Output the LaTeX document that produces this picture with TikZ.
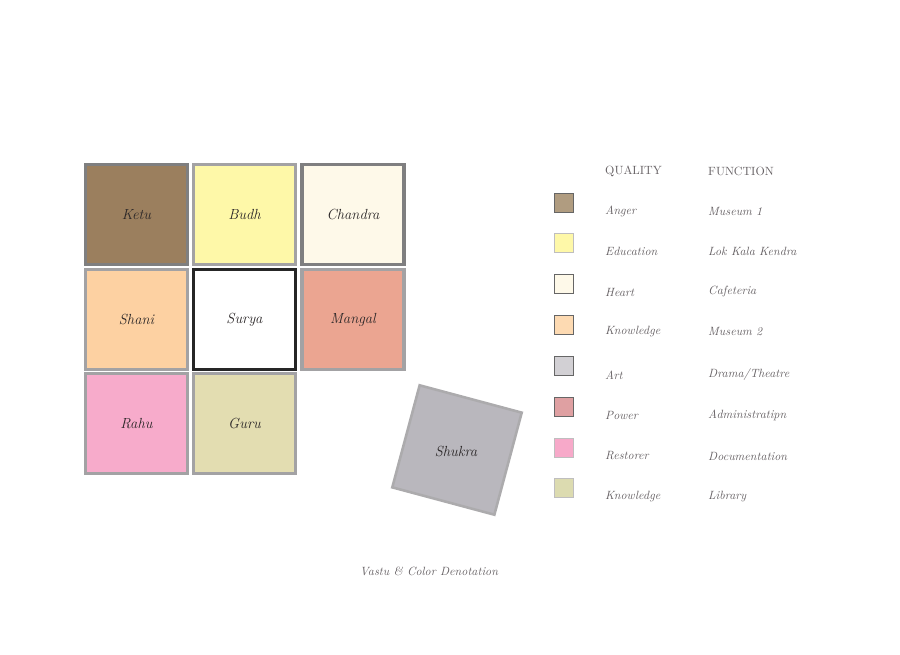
\documentclass[tikz,border=0pt]{standalone}
\usepackage{tikz}
\definecolor{ketu}{HTML}{9B7F5E}
\definecolor{budh}{HTML}{FEF8A8}
\definecolor{chandra}{HTML}{FEF9E9}
\definecolor{shani}{HTML}{FDD1A2}
\definecolor{mangal}{HTML}{EBA591}
\definecolor{rahu}{HTML}{F7ABCB}
\definecolor{guru}{HTML}{E3DDB1}
\definecolor{shukra}{HTML}{B9B7BD}
\definecolor{darkrim}{HTML}{7F7F80}
\definecolor{lightrim}{HTML}{A3A2A4}
\definecolor{inktext}{HTML}{2A2627}
\definecolor{legtext}{HTML}{666164}
\definecolor{anger}{HTML}{B09C80}
\definecolor{art}{HTML}{D2D0D4}
\definecolor{power}{HTML}{DFA0A2}
\definecolor{restorer}{HTML}{F7A9C9}
\definecolor{library}{HTML}{DCDBB0}
\definecolor{knowl}{HTML}{FDDAB2}

\begin{document}
\begin{tikzpicture}[x=0.03cm,y=-0.03cm,
    cell/.style={draw=lightrim, line width=2.6pt, minimum width=3.06cm, minimum height=3.0cm,
        inner sep=0pt, font=\fontsize{12.5}{14}\selectfont\itshape, text=inktext},
    swatch/.style={draw=darkrim!80!black, line width=0.8pt, minimum size=0.56cm, inner sep=0pt},
    legend/.style={anchor=west, font=\fontsize{10.2}{12}\selectfont\itshape, text=legtext, inner sep=0pt}]
    \useasboundingbox (0,0) rectangle (900,655);

    % grid of planets
    \node[cell, fill=ketu, draw=darkrim] (ketu) at (136.5,214.5) {Ketu};
    \node[cell, fill=budh] (budh) at (244.5,214.5) {Budh};
    \node[cell, fill=chandra, draw=darkrim] (chandra) at (353,214.5) {Chandra};
    \node[cell, fill=shani] (shani) at (136.5,319.5) {Shani};
    \node[cell, fill=white, draw=black!85] (surya) at (244.5,319.5) {Surya};
    \node[cell, fill=mangal] (mangal) at (353,319.5) {Mangal};
    \node[cell, fill=rahu] (rahu) at (136.5,423.5) {Rahu};
    \node[cell, fill=guru] (guru) at (244.5,423.5) {Guru};

    % the tilted one
    \node[cell, fill=shukra, draw=lightrim!90, line width=2.2pt, minimum width=3.17cm, minimum height=3.17cm,
        rotate=-15] (shukra) at (457,450) {};
    \node[cell, draw=none, minimum size=0pt] (shukratext) at (456,451) {Shukra};

    % legend
    \node[legend, font=\fontsize{10.2}{12}\selectfont] (quality) at (605,171) {QUALITY};
    \node[legend, font=\fontsize{10.2}{12}\selectfont] (function) at (708,171) {FUNCTION};

    \node[swatch, fill=anger] (s1) at (564,203) {};
    \node[legend] (q1) at (605,211) {Anger};
    \node[legend] (f1) at (708,211) {Museum 1};

    \node[swatch, fill=budh, draw=lightrim!70] (s2) at (564,243) {};
    \node[legend] (q2) at (605,251) {Education};
    \node[legend] (f2) at (708,251) {Lok Kala Kendra};

    \node[swatch, fill=chandra] (s3) at (564,284) {};
    \node[legend] (q3) at (605,292) {Heart};
    \node[legend] (f3) at (708,292) {Cafeteria};

    \node[swatch, fill=knowl] (s4) at (564,325) {};
    \node[legend] (q4) at (605,332) {Knowledge};
    \node[legend] (f4) at (708,332) {Museum 2};

    \node[swatch, fill=art] (s5) at (564,366) {};
    \node[legend] (q5) at (605,375) {Art};
    \node[legend] (f5) at (708,375) {Drama/Theatre};

    \node[swatch, fill=power] (s6) at (564,407) {};
    \node[legend] (q6) at (605,415) {Power};
    \node[legend] (f6) at (708,415) {Administratipn};

    \node[swatch, fill=restorer, draw=lightrim!70] (s7) at (564,448) {};
    \node[legend] (q7) at (605,456) {Restorer};
    \node[legend] (f7) at (708,456) {Documentation};

    \node[swatch, fill=library, draw=lightrim!70] (s8) at (564,488) {};
    \node[legend] (q8) at (605,497) {Knowledge};
    \node[legend] (f8) at (708,497) {Library};

    % caption
    \node[legend, anchor=center] (caption) at (429,571) {Vastu \& Color Denotation};
\end{tikzpicture}
\end{document}
